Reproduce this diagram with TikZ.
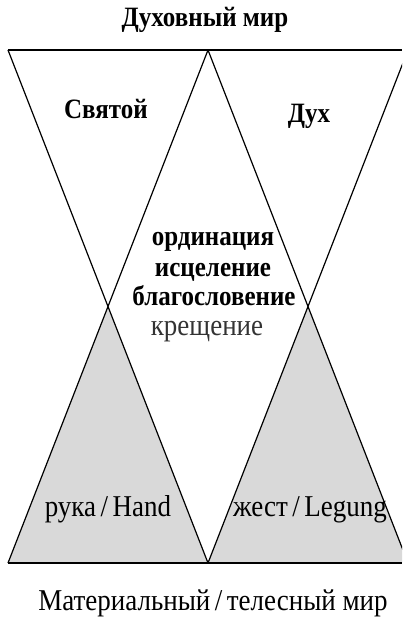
\documentclass[tikz,border=0pt]{standalone}
\usepackage{fontspec}
\setmainfont{Liberation Serif}
\newcommand{\tall}[1]{\scalebox{1}[1.12]{#1}}
\begin{document}
\begin{tikzpicture}[x=1pt,y=-1pt,
  diag/.style={line width=1.2pt, line join=miter},
  hline/.style={line width=1.6pt},
  shade/.style={fill=black!15},
  lbl/.style={inner sep=0pt, anchor=base, font=\fontsize{25}{30}\selectfont\bfseries},
  lblr/.style={inner sep=0pt, anchor=base, font=\fontsize{27}{32}\selectfont}]
\useasboundingbox (0,0) rectangle (402,618);
\coordinate (TL) at (8,50);
\coordinate (TM) at (208,50);
\coordinate (TR) at (408,50);
\coordinate (BL) at (8,563);
\coordinate (BM) at (208,563);
\coordinate (BR) at (408,563);
\coordinate (XL) at (108,306.5);
\coordinate (XR) at (308,306.5);
\coordinate (TE) at (402,50);
\coordinate (BE) at (402,563);
\begin{scope}
  \clip (0,0) rectangle (402,618);
  \fill[shade] (XL) -- (BL) -- (BM) -- cycle;
  \fill[shade] (XR) -- (BM) -- (BR) -- cycle;
  \draw[diag] (TL) -- (BM);
  \draw[diag] (TM) -- (BL);
  \draw[diag] (TM) -- (BR);
  \draw[diag] (TR) -- (BM);
\end{scope}
\draw[hline] (TL) -- (TE);
\draw[hline] (BL) -- (BE);
\node[lbl] (top) at (205,27) {\tall{Духовный мир}};
\node[lbl] (holy) at (106,118) {\tall{Святой}};
\node[lbl] (spirit) at (309,122) {\tall{Дух}};
\node[lbl] (ord) at (213,245) {\tall{ординация}};
\node[lbl] (heal) at (213,276) {\tall{исцеление}};
\node[lbl] (bless) at (214,305) {\tall{благословение}};
\node[lblr, text=black!80] (bapt) at (207,335) {\tall{крещение}};
\node[lblr] (hand) at (108,516) {\tall{рука\,/\,Hand}};
\node[lblr] (gest) at (310,516) {\tall{жест\,/\,Legung}};
\node[lblr] (bottom) at (213,610) {\tall{Материальный\,/\,телесный мир}};
\end{tikzpicture}
\end{document}
